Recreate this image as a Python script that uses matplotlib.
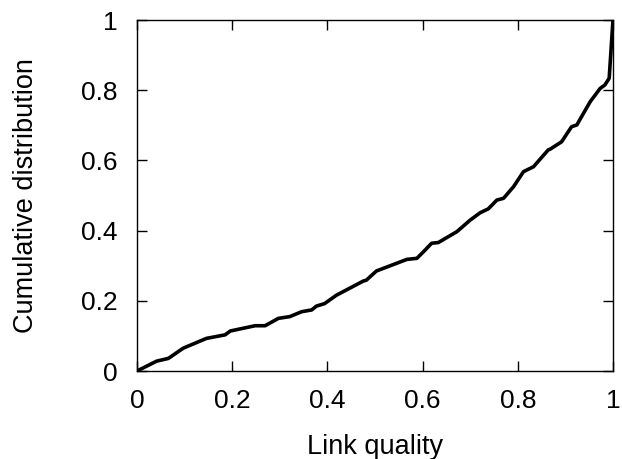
import numpy as np
import matplotlib
matplotlib.use('Agg')
from matplotlib import pyplot as plt

# CDF of link quality
quality = [0.0, 0.041, 0.066, 0.097, 0.146, 0.185, 0.196, 0.248, 0.269, 0.297,
           0.321, 0.346, 0.367, 0.377, 0.394, 0.419, 0.475, 0.482, 0.503, 0.567,
           0.588, 0.602, 0.619, 0.633, 0.672, 0.700, 0.721, 0.738, 0.756, 0.770,
           0.791, 0.812, 0.833, 0.864, 0.868, 0.892, 0.913, 0.924, 0.952, 0.973,
           0.983, 0.992, 1.0]
cdf = [0.0, 0.028, 0.036, 0.065, 0.093, 0.103, 0.114, 0.129, 0.129, 0.150,
       0.155, 0.169, 0.174, 0.185, 0.192, 0.216, 0.256, 0.259, 0.285, 0.318,
       0.321, 0.340, 0.364, 0.366, 0.397, 0.430, 0.451, 0.462, 0.487, 0.492,
       0.525, 0.568, 0.582, 0.630, 0.632, 0.653, 0.696, 0.701, 0.767, 0.805,
       0.815, 0.834, 1.0]
ticks = [0, 0.2, 0.4, 0.6, 0.8, 1]
tick_labels = ['0', '0.2', '0.4', '0.6', '0.8', '1']

plt.rcParams['font.family'] = ['Liberation Sans', 'DejaVu Sans']

fig = plt.figure(figsize=(6.22, 4.59), dpi=100)
ax = fig.add_axes([0.2203, 0.1917, 0.7652, 0.7647])
ax.plot(quality, cdf, color='black', lw=2.6, solid_joinstyle='round')
ax.set_xlim(0, 1)
ax.set_ylim(0, 1)
ax.set_xticks(ticks)
ax.set_xticklabels(tick_labels)
ax.set_yticks(ticks)
ax.set_yticklabels(tick_labels)
ax.tick_params(direction='in', top=True, right=True, length=7, width=1,
               labelsize=19)
ax.tick_params(axis='y', pad=14)
ax.tick_params(axis='x', pad=13)
for s in ax.spines.values():
    s.set_linewidth(1)
ax.set_xlabel('Link quality', fontsize=19.5, labelpad=15)
ax.set_ylabel('Cumulative distribution', fontsize=19.5, labelpad=30)

fig.savefig('out.png', dpi=100)
